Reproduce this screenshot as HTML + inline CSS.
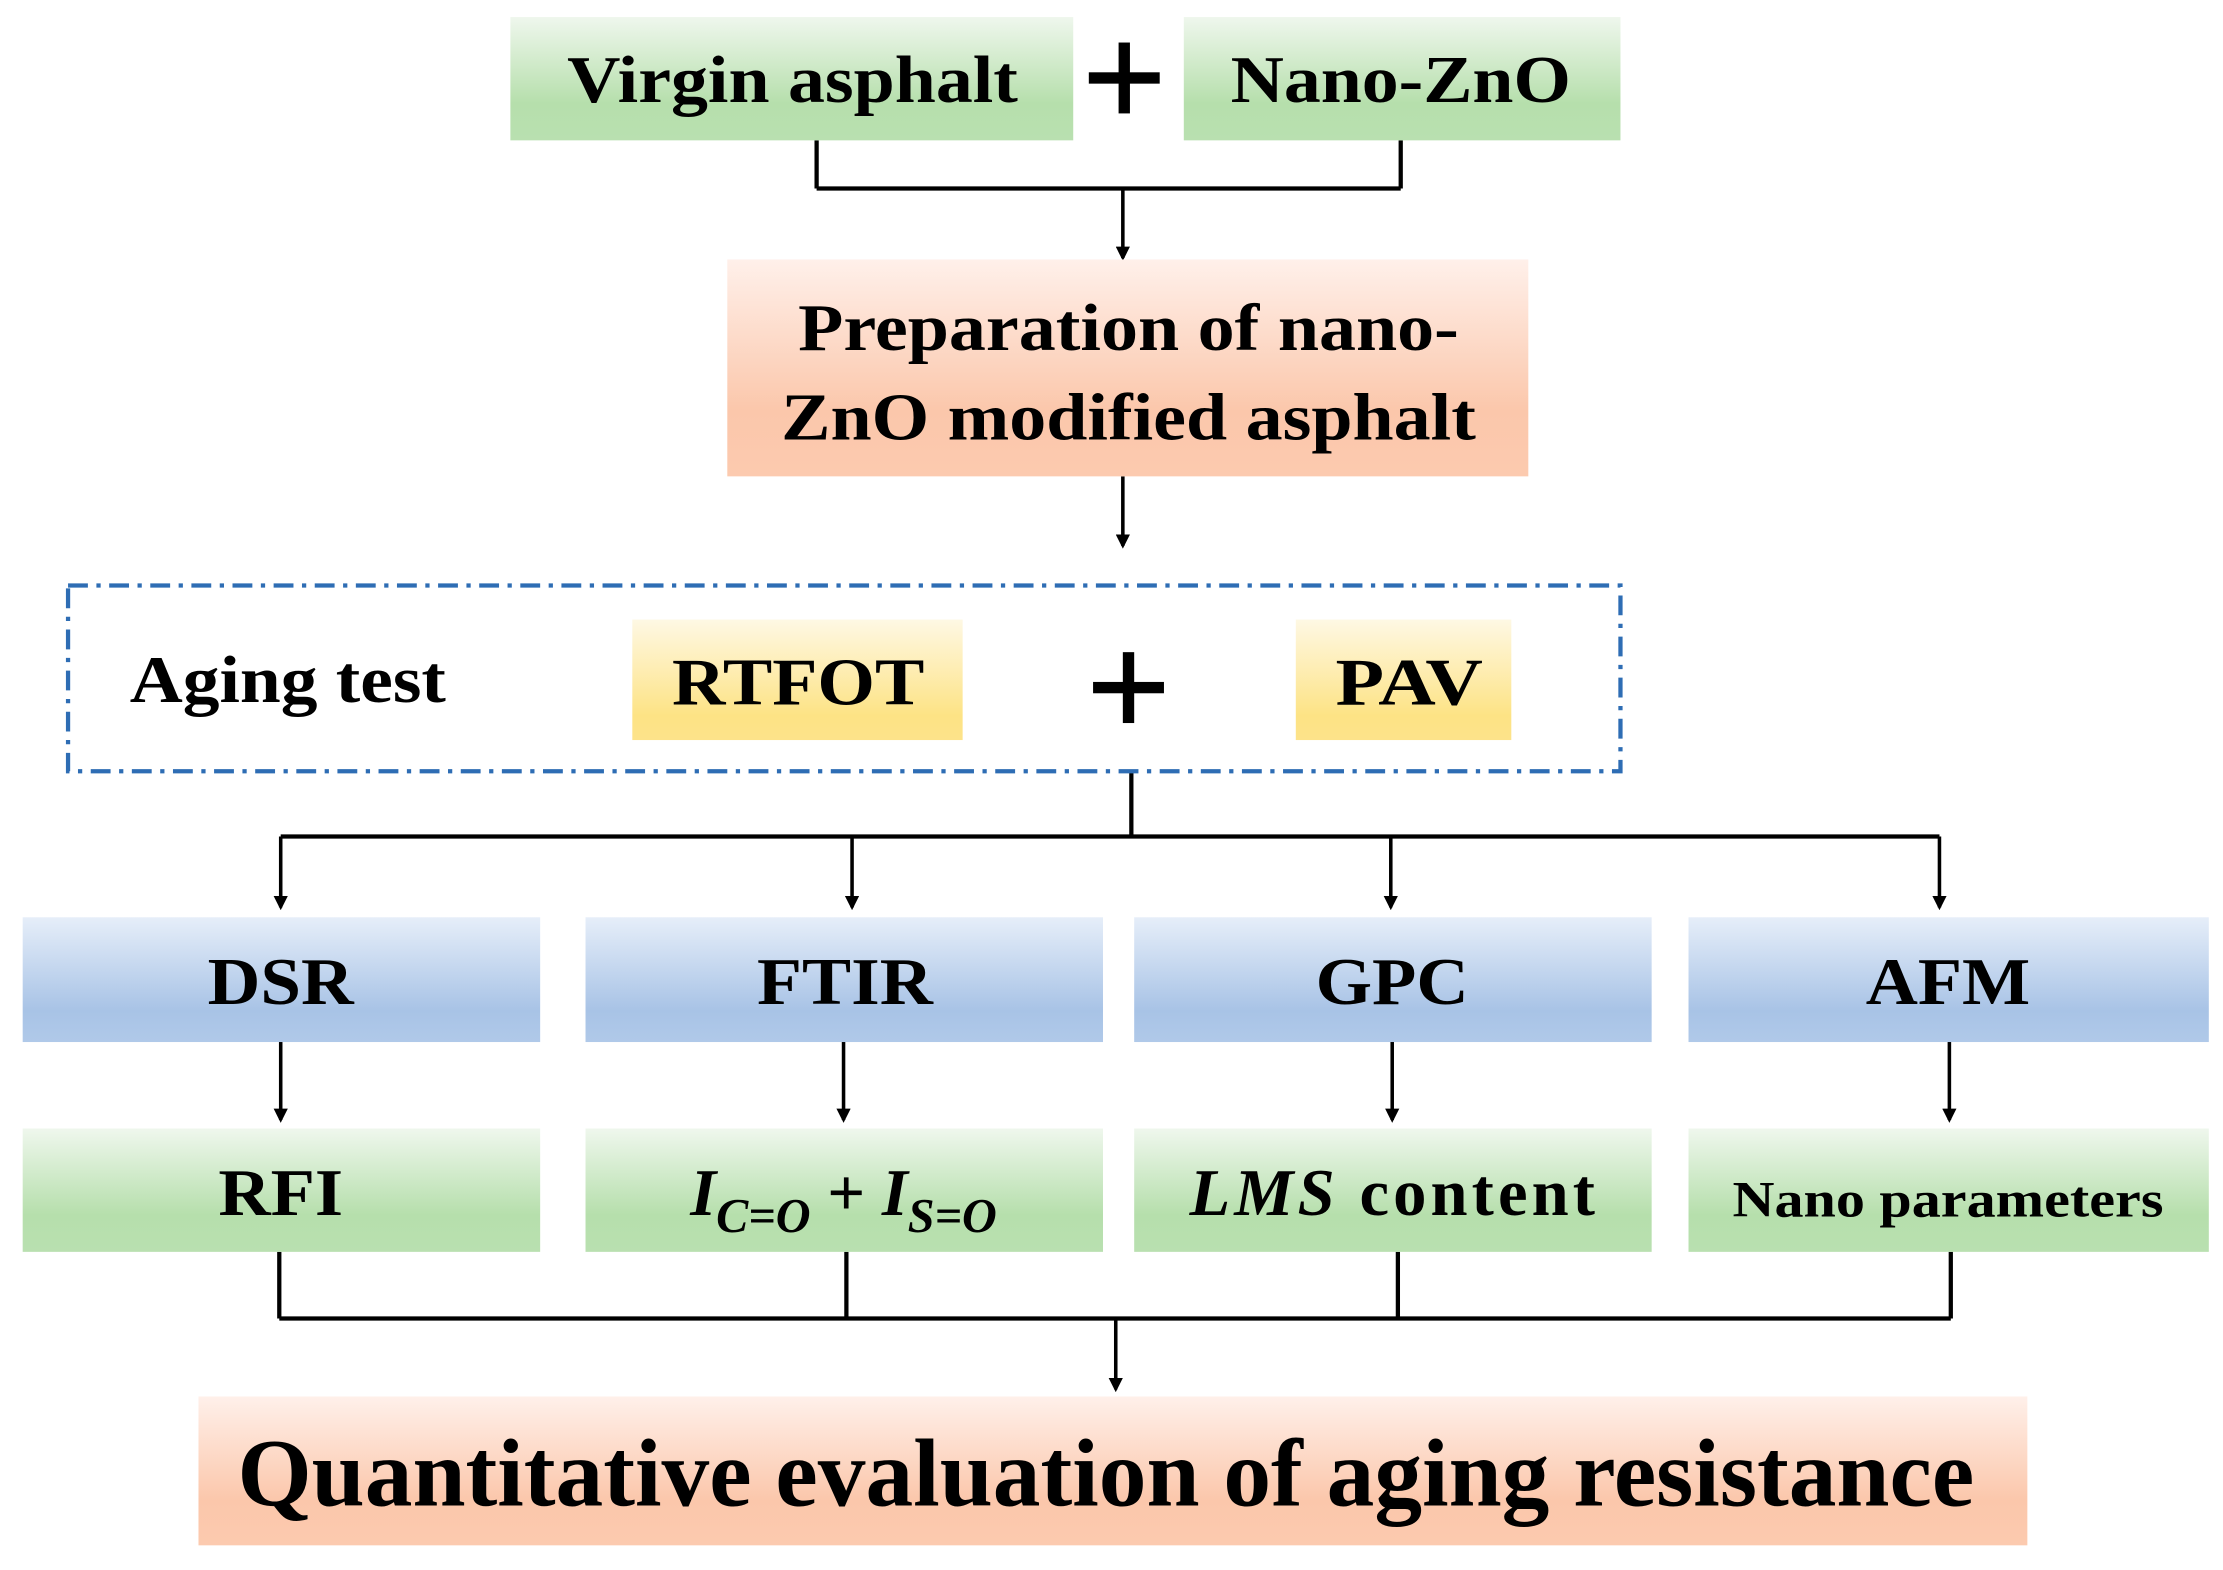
<!DOCTYPE html>
<html><head><meta charset="utf-8"><style>html,body{margin:0;padding:0;background:#fff}svg{display:block}</style></head>
<body>
<svg width="2223" height="1570" viewBox="0 0 1568 1107.4" preserveAspectRatio="none" xmlns="http://www.w3.org/2000/svg" font-family="'Liberation Serif', serif" font-weight="bold">
<defs>
<linearGradient id="g" x1="0" y1="0" x2="0" y2="1"><stop offset="0" stop-color="#eff7ed"/><stop offset="0.7" stop-color="#b6dfac"/><stop offset="1" stop-color="#b9e0b0"/></linearGradient>
<linearGradient id="o" x1="0" y1="0" x2="0" y2="1"><stop offset="0" stop-color="#fff0ea"/><stop offset="0.7" stop-color="#fbc7ab"/><stop offset="1" stop-color="#fccaaf"/></linearGradient>
<linearGradient id="y" x1="0" y1="0" x2="0" y2="1"><stop offset="0" stop-color="#fef8e4"/><stop offset="0.8" stop-color="#fde385"/><stop offset="1" stop-color="#fde38a"/></linearGradient>
<linearGradient id="b" x1="0" y1="0" x2="0" y2="1"><stop offset="0" stop-color="#e6eef9"/><stop offset="0.75" stop-color="#a8c3e6"/><stop offset="1" stop-color="#b0c9e9"/></linearGradient>
<marker id="a" markerWidth="10" markerHeight="10" refX="8" refY="5" orient="auto" markerUnits="userSpaceOnUse"><path d="M0,0 L10,5 L0,10 Z" fill="#000"/></marker>
</defs>
<g stroke="#000" stroke-width="3" fill="none">
<path d="M576 99 V133 M988 99 V133 M576 133 H988"/>
<path d="M198 590 H1368 M798 544 V590 M197 883 V930 M597 883 V930 M986 883 V930 M1376 883 V930 M197 930 H1376"/>
</g>
<g stroke="#000" stroke-width="2.5" fill="none" marker-end="url(#a)">
<path d="M792 133 V182"/><path d="M792 336 V385"/>
<path d="M198 590 V640"/><path d="M601 590 V640"/><path d="M981 590 V640"/><path d="M1368 590 V640"/>
<path d="M198 735 V790"/><path d="M595 735 V790"/><path d="M982 735 V790"/><path d="M1375 735 V790"/>
<path d="M787 930 V980"/>
</g>
<rect x="360" y="12" width="397" height="87" fill="url(#g)"/>
<rect x="835" y="12" width="308" height="87" fill="url(#g)"/>
<rect x="513" y="183" width="565" height="153" fill="url(#o)"/>
<rect x="48" y="413" width="1095" height="131" fill="none" stroke="#2e6db4" stroke-width="3" stroke-dasharray="14,6,3,6"/>
<rect x="446" y="437" width="233" height="85" fill="url(#y)"/>
<rect x="914" y="437" width="152" height="85" fill="url(#y)"/>
<rect x="16" y="647" width="365" height="88" fill="url(#b)"/>
<rect x="413" y="647" width="365" height="88" fill="url(#b)"/>
<rect x="800" y="647" width="365" height="88" fill="url(#b)"/>
<rect x="1191" y="647" width="367" height="88" fill="url(#b)"/>
<rect x="16" y="796" width="365" height="87" fill="url(#g)"/>
<rect x="413" y="796" width="365" height="87" fill="url(#g)"/>
<rect x="800" y="796" width="365" height="87" fill="url(#g)"/>
<rect x="1191" y="796" width="367" height="87" fill="url(#g)"/>
<rect x="140" y="985" width="1290" height="105" fill="url(#o)"/>
<g fill="#000" stroke="none">
<rect x="789" y="30" width="8" height="50"/><rect x="768" y="51" width="50" height="8"/>
<rect x="792" y="460" width="8" height="50"/><rect x="771" y="481" width="50" height="8"/>
</g>
<g font-size="47" text-anchor="middle" fill="#000">
<text x="559" y="72" textLength="318" lengthAdjust="spacingAndGlyphs">Virgin asphalt</text>
<text x="988" y="72" textLength="240" lengthAdjust="spacingAndGlyphs">Nano-ZnO</text>
<text x="796" y="247" textLength="466" lengthAdjust="spacingAndGlyphs">Preparation of nano-</text>
<text x="796" y="310" textLength="490" lengthAdjust="spacingAndGlyphs">ZnO modified asphalt</text>
<text x="203" y="495" textLength="223" lengthAdjust="spacingAndGlyphs">Aging test</text>
<text x="563" y="497" textLength="178" lengthAdjust="spacingAndGlyphs">RTFOT</text>
<text x="994" y="497" textLength="104" lengthAdjust="spacingAndGlyphs">PAV</text>
<text x="198" y="708" textLength="103" lengthAdjust="spacingAndGlyphs">DSR</text>
<text x="596" y="708" textLength="124" lengthAdjust="spacingAndGlyphs">FTIR</text>
<text x="982" y="708" textLength="108" lengthAdjust="spacingAndGlyphs">GPC</text>
<text x="1374" y="708" textLength="116" lengthAdjust="spacingAndGlyphs">AFM</text>
<text x="198" y="857" textLength="88" lengthAdjust="spacingAndGlyphs">RFI</text>
<text x="982" y="857" textLength="286"><tspan font-style="italic">LMS</tspan> content</text>
<text x="1374" y="858" font-size="36" textLength="304" lengthAdjust="spacingAndGlyphs">Nano parameters</text>
<text x="595" y="857" font-style="italic"><tspan>I</tspan><tspan font-size="34" dy="12">C=O</tspan><tspan font-style="normal" dy="-12"> + </tspan><tspan>I</tspan><tspan font-size="34" dy="12">S=O</tspan></text>
<text x="780" y="1062" font-size="68" textLength="1225" lengthAdjust="spacingAndGlyphs">Quantitative evaluation of aging resistance</text>
</g>
</svg>
</body></html>
